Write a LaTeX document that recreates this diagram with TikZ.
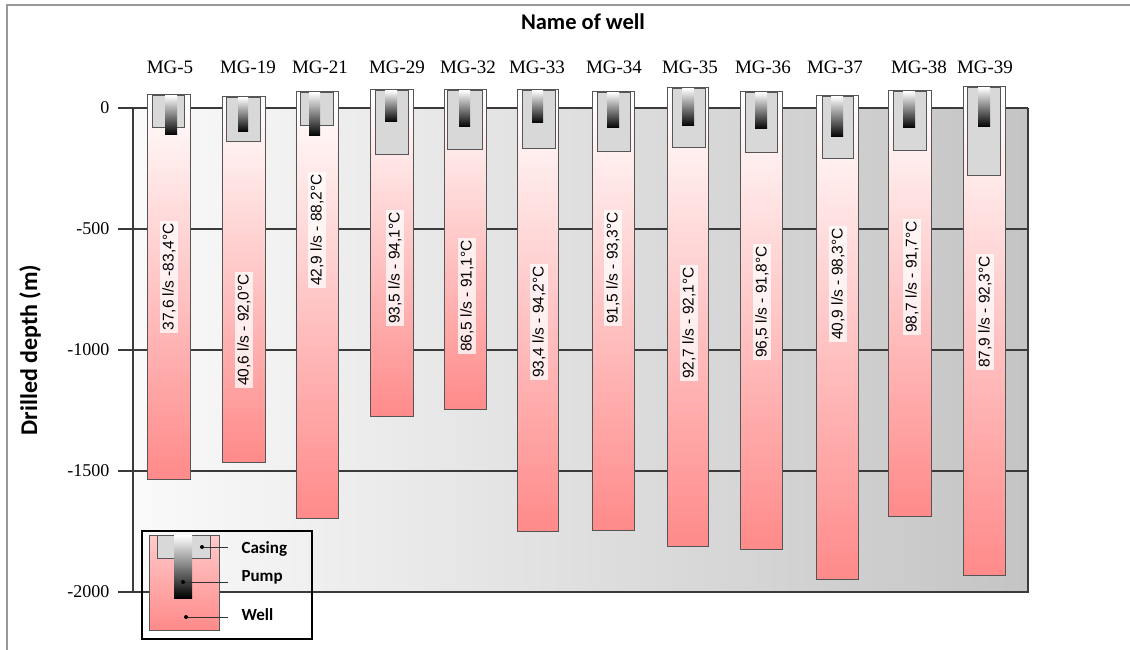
\documentclass[tikz,border=0pt]{standalone}
\usepackage{fontspec}
\setmainfont{Liberation Serif}
\newfontfamily\lsans{Liberation Sans}
\newfontfamily\carl{Carlito}
\definecolor{wellpink}{HTML}{FF8A8A}
\definecolor{wellmid}{HTML}{FFA6A6}
\definecolor{framec}{HTML}{3A3A3A}
\definecolor{casingc}{HTML}{D8D8D8}
\definecolor{edgec}{HTML}{555555}
\definecolor{bgleft}{HTML}{FAFAFA}
\definecolor{bgright}{HTML}{C4C4C4}
\tikzset{
  wellbar/.style={top color=white, middle color=wellmid, bottom color=wellpink, draw=edgec, line width=0.9pt},
  casingbox/.style={fill=casingc, draw=edgec, line width=0.9pt},
  pumpbar/.style={top color=white, middle color=black!55, bottom color=black},
  flowlabel/.style={rotate=90, fill=white, fill opacity=0.75, text opacity=1, inner sep=2pt, font=\lsans\fontsize{15.5}{17}\selectfont},
  wellname/.style={font=\fontsize{19}{21}\selectfont},
  ticklabel/.style={anchor=east, font=\fontsize{18}{20}\selectfont},
  gridline/.style={draw=framec, line width=1.2pt},
  legtext/.style={anchor=west, font=\carl\bfseries\fontsize{17}{19}\selectfont},
  leader/.style={draw=black!80, line width=0.8pt}
}
\begin{document}
\begin{tikzpicture}[x=1pt,y=-1pt]
\useasboundingbox (0,0) rectangle (1130,650);
\fill[white] (0,0) rectangle (1130,650);
% outer frame
\draw[black!40, line width=2pt] (7,655) -- (7,5) -- (1135,5);
% title and axis title
\node[font=\carl\bfseries\fontsize{22.5}{24}\selectfont] (title) at (583,22) {Name of well};
\node[rotate=90, font=\carl\bfseries\fontsize{24}{26}\selectfont] (ytitle) at (30,350) {Drilled depth (m)};
% plot background
\shade[left color=bgleft, right color=bgright] (133,108) rectangle (1028,592);
% grid lines and ticks
\foreach \yy/\lab in {108/0, 229/-500, 350/-1000, 471/-1500, 592/-2000}{
  \draw[gridline] (118,\yy) -- (1028,\yy);
  \node[ticklabel] at (113,\yy) {\lab};
}
\draw[framec, line width=1.6pt] (133,108) -- (133,592) -- (1028,592) -- (1028,108);
% wells
\foreach \nm/\xl/\xr/\tp/\bt/\cl/\cr/\cb/\pl/\pr/\pb/\lx/\ly/\lab/\nx in {
  MG-5/147/190/94/479/152/184/127/165/177/135/169/277/{37,6 l/s -83,4°C}/170,
  MG-19/222/265/96/462/226/260/141/238/248/132/244/330/{40,6 l/s - 92,0°C}/248,
  MG-21/296/338/91/518/300/333/125/309/320/136/317/230/{42,9 l/s - 88,2°C}/320,
  MG-29/370/413/89/416/375/408/154/385/397/122/395/268/{93,5 l/s - 94,1°C}/397,
  MG-32/444/486/89/409/447/482/149/459/470/127/467/296/{86,5 l/s - 91,1°C}/468,
  MG-33/517/558/89/531/522/555/148/532/543/123/539/322/{93,4 l/s - 94,2°C}/537,
  MG-34/592/634/91/530/597/630/151/607/619/128/613/268/{91,5 l/s - 93,3°C}/614,
  MG-35/667/708/87/546/672/705/147/682/694/126/689/323/{92,7 l/s - 92,1°C}/690,
  MG-36/740/782/91/549/745/777/152/755/767/129/762/302/{96,5 l/s - 91,8°C}/763,
  MG-37/816/858/95/579/822/853/158/831/843/137/838/284/{40,9 l/s - 98,3°C}/835,
  MG-38/888/931/90/516/893/926/150/903/915/128/912/277/{98,7 l/s - 91,7°C}/919,
  MG-39/963/1005/86/575/967/1000/175/978/990/127/985/312/{87,9 l/s - 92,3°C}/985}{
  \path[wellbar] (\xl,\tp) rectangle (\xr,\bt);
  \path[casingbox] (\cl,\tp+1) rectangle (\cr,\cb);
  \shade[pumpbar] (\pl,\tp+1.5) rectangle (\pr,\pb);
  \node[flowlabel] (lab\nm) at (\lx,\ly) {\lab};
  \node[wellname] (name\nm) at (\nx,67) {\nm};
}
% legend
\draw[black, line width=1.6pt] (142,531) rectangle (312,639);
\path[top color=wellpink!45, bottom color=wellpink, draw=edgec, line width=0.9pt] (149,535) rectangle (219,630);
\path[casingbox] (157,535) rectangle (210,558);
\shade[pumpbar] (174,535) rectangle (192,598);
\coordinate (dcas) at (202,547);
\coordinate (dpump) at (183,582);
\coordinate (dwell) at (186,617);
\node[legtext] (tcas) at (238,549) {Casing};
\node[legtext] (tpump) at (238,577) {Pump};
\node[legtext] (twell) at (238,615) {Well};
\draw[leader] (dcas) -- (228,547);
\draw[leader] (dpump) -- (228,582);
\draw[leader] (dwell) -- (228,617);
\fill[black] (dcas) circle (2);
\fill[black] (dpump) circle (2);
\fill[black] (dwell) circle (2);
\end{tikzpicture}
\end{document}
